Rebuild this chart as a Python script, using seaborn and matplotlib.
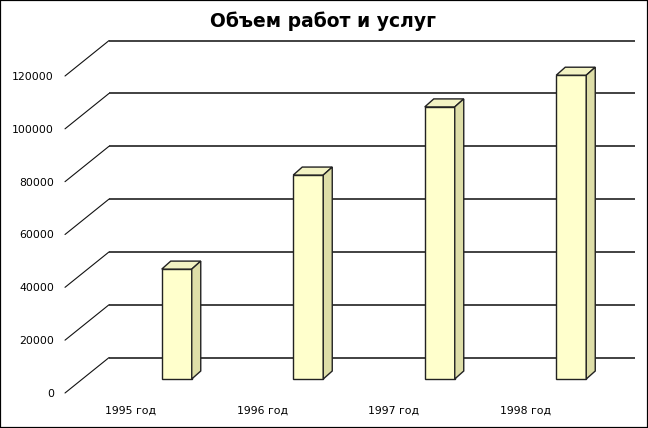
import matplotlib
matplotlib.use("Agg")
import matplotlib.pyplot as plt
import seaborn as sns
import pandas as pd
from matplotlib.transforms import Affine2D, IdentityTransform
from matplotlib.patches import Polygon, Rectangle
from matplotlib.lines import Line2D

# ---- data ----
years = ["1995 год", "1996 год", "1997 год", "1998 год"]
values = [41600, 77200, 103000, 115000]
yticks = [0, 20000, 40000, 60000, 80000, 100000, 120000]
title = "Объем работ и услуг"

# ---- style ----
W, H, DPI = 648, 428, 100
sns.set_style("white")
plt.rcParams["font.family"] = ["DejaVu Sans"]
plt.rcParams["text.color"] = "black"

fig = plt.figure(figsize=(W / DPI, H / DPI), dpi=DPI)
fig.patch.set_facecolor("white")

# front plane of the pseudo-3D chart
ax = fig.add_axes([65 / W, (H - 393) / H, 526 / W, 317 / H])
ax.set_facecolor("none")

df = pd.DataFrame({"year": years, "value": values})
sns.barplot(data=df, x="year", y="value", color="#FFFFCC", saturation=1,
            width=30 / 131.5, edgecolor="#222222", linewidth=1.0, ax=ax,
            zorder=5)
ax.set_xlim(-0.5, 3.5)
ax.set_ylim(0, 120000)
ax.set_xlabel("")
ax.set_ylabel("")
for s in ax.spines.values():
    s.set_visible(False)

# depth offsets (pixels)
WALL_DX, WALL_DY = 44, 35.4
BAR_DX, BAR_DY = 46, 14
DEPTH_DX, DEPTH_DY = 9, 8

# back wall gridlines
ax.hlines(yticks, -0.5, 3.5, colors="#333333", linewidth=1.3,
          transform=ax.transData + Affine2D().translate(WALL_DX, WALL_DY),
          clip_on=False, zorder=1)

# side wall diagonals
for t in yticks:
    px, py = ax.transData.transform((-0.5, t))
    fig.add_artist(Line2D([px, px + WALL_DX], [py, py + WALL_DY],
                          transform=IdentityTransform(), color="#111111",
                          linewidth=0.8))

# bars: shift into depth and add top/side faces
shift = Affine2D().translate(BAR_DX, BAR_DY)
for p in ax.patches:
    p.set_transform(ax.transData + shift)
    p.set_clip_on(False)
    x0, y0 = p.get_x(), p.get_y()
    x1, y1 = x0 + p.get_width(), y0 + p.get_height()
    (xl, yb) = ax.transData.transform((x0, y0)) + [BAR_DX, BAR_DY]
    (xr, yt) = ax.transData.transform((x1, y1)) + [BAR_DX, BAR_DY]
    top = Polygon([(xl, yt), (xr, yt), (xr + DEPTH_DX, yt + DEPTH_DY),
                   (xl + DEPTH_DX, yt + DEPTH_DY)], closed=True,
                  transform=IdentityTransform(), facecolor="#F3F3C4",
                  edgecolor="#222222", linewidth=1.0, zorder=6)
    side = Polygon([(xr, yb), (xr + DEPTH_DX, yb + DEPTH_DY),
                    (xr + DEPTH_DX, yt + DEPTH_DY), (xr, yt)], closed=True,
                   transform=IdentityTransform(), facecolor="#DEDEA8",
                   edgecolor="#222222", linewidth=1.0, zorder=6)
    fig.add_artist(top)
    fig.add_artist(side)

# ticks
ax.set_yticks(yticks)
ax.set_yticklabels([str(v) for v in yticks])
ax.tick_params(axis="y", length=0, pad=8, labelsize=7.8, colors="black")
ax.tick_params(axis="x", length=0, pad=9, labelsize=7.8, colors="black")

# title
fig.text(323.5 / W, 1 - 21 / H, title, ha="center", va="center",
         fontsize=13.5, fontweight="bold", color="black")

# figure border
fig.add_artist(Rectangle((0, 0), 1, 1, transform=fig.transFigure,
                         fill=False, edgecolor="black", linewidth=1.6))

fig.savefig("out.png", dpi=DPI)
